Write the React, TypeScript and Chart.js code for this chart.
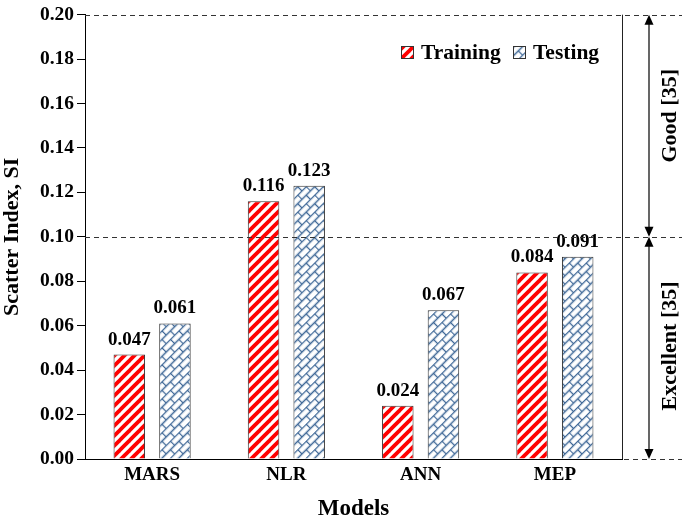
import React, { useEffect, useRef } from "react";
import { Chart, registerables } from "chart.js";

Chart.register(...registerables);

const categories = ["MARS", "NLR", "ANN", "MEP"];
const trainingSI = [0.047, 0.116, 0.024, 0.084];
const testingSI = [0.061, 0.123, 0.067, 0.091];
const seriesNames = ["Training", "Testing"];
const yMin = 0;
const yMax = 0.2;
const yStep = 0.02;
const goodLabel = "Good [35]";
const excellentLabel = "Excellent [35]";
const limitGood = 0.2;
const limitExcellent = 0.1;

const FONT = "'Liberation Serif', 'Times New Roman', serif";

function makeStripePattern(): CanvasPattern | string {
  const s = 10;
  const c = document.createElement("canvas");
  c.width = s;
  c.height = s;
  const g = c.getContext("2d");
  if (!g) return "#ff0000";
  g.fillStyle = "#ffffff";
  g.fillRect(0, 0, s, s);
  g.strokeStyle = "#ff0000";
  g.lineWidth = 3.8;
  g.lineCap = "square";
  for (const o of [-s, 0, s]) {
    g.beginPath();
    g.moveTo(o - 1, s + 1);
    g.lineTo(o + s + 1, -1);
    g.stroke();
  }
  const p = g.createPattern(c, "repeat");
  return p || "#ff0000";
}

function makeBrickPattern(): CanvasPattern | string {
  const W = 12;
  const H = 12;
  const c = document.createElement("canvas");
  c.width = W;
  c.height = H;
  const g = c.getContext("2d");
  if (!g) return "#5a7fa8";
  g.fillStyle = "#ffffff";
  g.fillRect(0, 0, W, H);
  g.strokeStyle = "#3f6897";
  g.lineWidth = 1.3;
  g.beginPath();
  g.moveTo(0, 0.5);
  g.lineTo(W, 0.5);
  g.moveTo(0, H / 2 + 0.5);
  g.lineTo(W, H / 2 + 0.5);
  g.moveTo(0.5, 0);
  g.lineTo(0.5, H / 2);
  g.moveTo(W / 2 + 0.5, H / 2);
  g.lineTo(W / 2 + 0.5, H);
  g.stroke();
  const p = g.createPattern(c, "repeat");
  if (!p) return "#5a7fa8";
  try {
    p.setTransform(new DOMMatrix().rotate(-45));
  } catch (e) {
    /* ignore */
  }
  return p;
}

export default function App() {
  const ref = useRef<HTMLCanvasElement | null>(null);

  useEffect(() => {
    if (!ref.current) return;
    const stripe = makeStripePattern();
    const brick = makeBrickPattern();
    const fills = [stripe, brick];

    const labelPlugin = {
      id: "valueLabels",
      afterDatasetsDraw(chart: any) {
        const ctx = chart.ctx;
        ctx.save();
        ctx.font = `bold 19px ${FONT}`;
        ctx.fillStyle = "#000";
        ctx.textAlign = "center";
        ctx.textBaseline = "alphabetic";
        chart.data.datasets.forEach((ds: any, di: number) => {
          const meta = chart.getDatasetMeta(di);
          meta.data.forEach((el: any, i: number) => {
            const v = ds.data[i] as number;
            ctx.fillText(v.toFixed(3), el.x, el.y - 10);
          });
        });
        ctx.restore();
      },
    };

    const annotPlugin = {
      id: "annotations",
      afterDraw(chart: any) {
        const ctx = chart.ctx;
        const { left, right, top, bottom } = chart.chartArea;
        const ys = chart.scales.y;
        const yG = ys.getPixelForValue(limitGood);
        const yE = ys.getPixelForValue(limitExcellent);
        const y0 = ys.getPixelForValue(0);
        const xEnd = 682;
        ctx.save();
        ctx.strokeStyle = "#222";
        ctx.lineWidth = 1;
        ctx.setLineDash([]);
        ctx.beginPath();
        ctx.moveTo(right + 0.5, top);
        ctx.lineTo(right + 0.5, bottom);
        ctx.stroke();
        ctx.strokeStyle = "#333";
        ctx.setLineDash([5, 4]);
        ctx.beginPath();
        ctx.moveTo(left, Math.round(yG) + 0.5);
        ctx.lineTo(xEnd, Math.round(yG) + 0.5);
        ctx.moveTo(left, Math.round(yE) + 0.5);
        ctx.lineTo(xEnd, Math.round(yE) + 0.5);
        ctx.moveTo(right + 2, Math.round(y0) + 0.5);
        ctx.lineTo(xEnd, Math.round(y0) + 0.5);
        ctx.stroke();
        ctx.setLineDash([]);
        const ax = 649;
        const drawArrow = (ya: number, yb: number) => {
          const hl = 10;
          const hw = 4.5;
          ctx.strokeStyle = "#000";
          ctx.fillStyle = "#000";
          ctx.lineWidth = 1.2;
          ctx.beginPath();
          ctx.moveTo(ax, ya + hl - 1);
          ctx.lineTo(ax, yb - hl + 1);
          ctx.stroke();
          ctx.beginPath();
          ctx.moveTo(ax, ya);
          ctx.lineTo(ax - hw, ya + hl);
          ctx.lineTo(ax + hw, ya + hl);
          ctx.closePath();
          ctx.fill();
          ctx.beginPath();
          ctx.moveTo(ax, yb);
          ctx.lineTo(ax - hw, yb - hl);
          ctx.lineTo(ax + hw, yb - hl);
          ctx.closePath();
          ctx.fill();
        };
        drawArrow(yG, yE);
        drawArrow(yE, y0);
        ctx.font = `bold 22px ${FONT}`;
        ctx.fillStyle = "#000";
        ctx.textAlign = "center";
        ctx.textBaseline = "middle";
        const rot = (t: string, x: number, y: number) => {
          ctx.save();
          ctx.translate(x, y);
          ctx.rotate(-Math.PI / 2);
          ctx.fillText(t, 0, 0);
          ctx.restore();
        };
        rot(goodLabel, 670, (yG + yE) / 2 - 10);
        rot(excellentLabel, 670, (yE + y0) / 2 - 2);
        ctx.font = `bold 21.5px ${FONT}`;
        ctx.textAlign = "left";
        ctx.textBaseline = "middle";
        const items = [
          { x: 401, name: seriesNames[0], fill: fills[0] },
          { x: 513, name: seriesNames[1], fill: fills[1] },
        ];
        const ly = 52;
        items.forEach((it) => {
          ctx.fillStyle = it.fill as any;
          ctx.fillRect(it.x, ly - 6, 12, 12);
          ctx.strokeStyle = "#333";
          ctx.lineWidth = 1;
          ctx.strokeRect(it.x + 0.5, ly - 6 + 0.5, 12, 12);
          ctx.fillStyle = "#000";
          ctx.fillText(it.name, it.x + 20, ly + 1);
        });
        ctx.restore();
      },
    };

    const chart = new Chart(ref.current, {
      type: "bar",
      data: {
        labels: categories,
        datasets: [
          {
            label: seriesNames[0],
            data: trainingSI,
            backgroundColor: stripe as any,
            borderColor: "#333",
            borderWidth: 1,
            categoryPercentage: 0.68,
            barPercentage: 0.69,
          },
          {
            label: seriesNames[1],
            data: testingSI,
            backgroundColor: brick as any,
            borderColor: "#333",
            borderWidth: 1,
            categoryPercentage: 0.68,
            barPercentage: 0.69,
          },
        ],
      },
      options: {
        responsive: false,
        animation: false,
        devicePixelRatio: 1,
        layout: { padding: { top: 13, right: 63, left: 0, bottom: 0 } },
        plugins: {
          legend: { display: false },
          tooltip: { enabled: false },
        },
        scales: {
          x: {
            grid: { display: false, drawTicks: false },
            border: { display: true, color: "#000", width: 1 },
            ticks: {
              color: "#000",
              padding: 5,
              font: { family: FONT, size: 19, weight: "bold" },
            },
            title: {
              display: true,
              text: "Models",
              color: "#000",
              font: { family: FONT, size: 23, weight: "bold" },
              padding: { top: 0, bottom: 0 },
            },
            afterFit(scale: any) {
              scale.height = 64;
            },
          },
          y: {
            min: yMin,
            max: yMax,
            grid: {
              drawOnChartArea: false,
              drawTicks: true,
              tickLength: 8,
              color: "#000",
            },
            border: { display: true, color: "#000", width: 1 },
            ticks: {
              stepSize: yStep,
              color: "#000",
              padding: 3,
              font: { family: FONT, size: 19.5, weight: "bold" },
              callback: (v: any) => Number(v).toFixed(2),
            },
            title: {
              display: true,
              text: "Scatter Index, SI",
              color: "#000",
              font: { family: FONT, size: 22, weight: "bold", lineHeight: 1 },
              padding: { top: 1, bottom: 0 },
            },
            afterFit(scale: any) {
              scale.width = 85;
            },
          },
        },
      },
      plugins: [labelPlugin, annotPlugin],
    } as any);

    return () => {
      chart.destroy();
    };
  }, []);

  return (
    <div style={{ position: "fixed", left: 0, top: 0, width: 685, height: 523, background: "#fff" }}>
      <canvas ref={ref} width={685} height={523} style={{ display: "block" }} />
    </div>
  );
}
